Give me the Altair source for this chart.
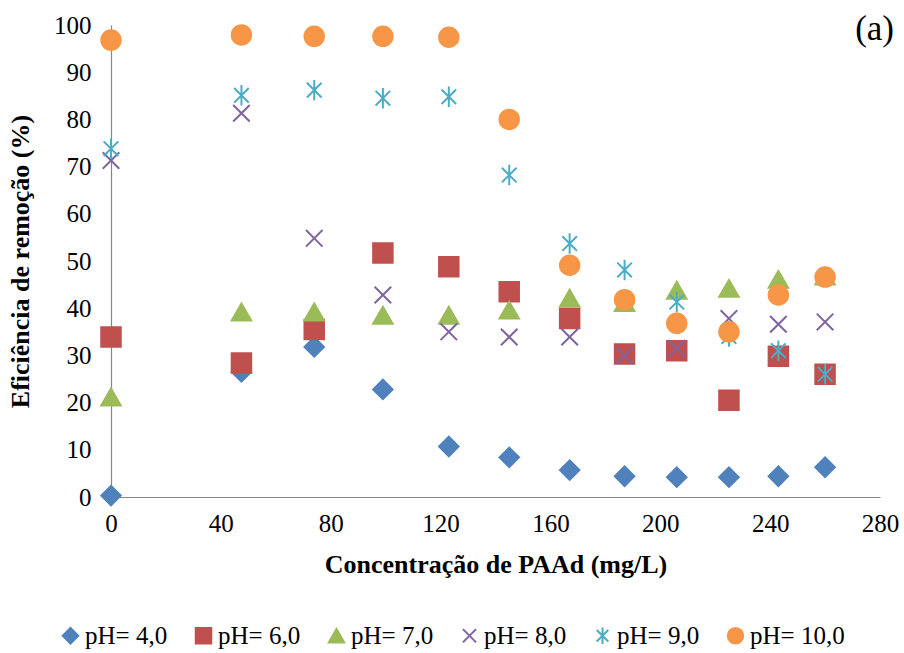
import altair as alt
import pandas as pd

# ---- data ----
conc = [0, 47.5, 74, 99, 123, 145, 167, 187, 206, 225, 243, 260]
ph4 = [0.3, 26.5, 31.8, 22.8, 10.7, 8.4, 5.7, 4.4, 4.2, 4.2, 4.4, 6.3]
ph6 = [33.9, 28.4, 35.5, 51.7, 48.8, 43.5, 37.8, 30.3, 31.0, 20.5, 29.8, 26.0]
ph7 = [21.2, 39.2, 39.2, 38.5, 38.5, 39.6, 42.1, 41.2, 43.8, 44.2, 46.1, 46.8]
ph8 = [71.3, 81.3, 54.8, 42.8, 35.0, 33.9, 33.9, 30.0, 31.5, 37.8, 36.6, 37.1]
ph9 = [73.8, 85.1, 86.2, 84.5, 84.8, 68.2, 53.7, 48.1, 41.3, 34.0, 31.0, 26.0]
ph10 = [96.8, 97.9, 97.6, 97.6, 97.4, 80.0, 49.1, 41.8, 36.8, 35.0, 42.8, 46.6]

series_names = ["pH= 4,0", "pH= 6,0", "pH= 7,0", "pH= 8,0", "pH= 9,0", "pH= 10,0"]
series_values = [ph4, ph6, ph7, ph8, ph9, ph10]
colors = ["#4F81BD", "#C0504D", "#9BBB59", "#8064A2", "#4BACC6", "#F79646"]
shapes = [
    "diamond",
    "square",
    "triangle-up",
    "M-0.85,-0.85L0.85,0.85M-0.85,0.85L0.85,-0.85",
    "M-0.75,-0.75L0.75,0.75M-0.75,0.75L0.75,-0.75M0,-1.05L0,1.05",
    "circle",
]
x_ticks = [0, 40, 80, 120, 160, 200, 240, 280]
y_ticks = [0, 10, 20, 30, 40, 50, 60, 70, 80, 90, 100]

FONT = "Times New Roman, Liberation Serif, DejaVu Serif, serif"

rows = []
for name, vals in zip(series_names, series_values):
    for xv, yv in zip(conc, vals):
        rows.append({"serie": name, "conc": xv, "efic": yv, "ord": len(rows)})
df = pd.DataFrame(rows)

leg = alt.Legend(title=None)
points = alt.Chart(df).mark_point(
    size=380, strokeWidth=2, opacity=1, filled=False
).encode(
    x=alt.X("conc:Q", scale=alt.Scale(domain=[0, 280], nice=False),
            axis=alt.Axis(values=x_ticks, title="Concentração de PAAd (mg/L)")),
    y=alt.Y("efic:Q", scale=alt.Scale(domain=[0, 100], nice=False),
            axis=alt.Axis(values=y_ticks, title="Eficiência de remoção (%)")),
    fill=alt.Fill("serie:N", scale=alt.Scale(domain=series_names, range=colors), legend=leg),
    stroke=alt.Stroke("serie:N", scale=alt.Scale(domain=series_names, range=colors), legend=leg),
    shape=alt.Shape("serie:N", scale=alt.Scale(domain=series_names, range=shapes), legend=leg),
    order=alt.Order("ord:Q"),
)

chart = points.properties(
    width=769,
    height=472,
    autosize=alt.AutoSizeParams(type="none"),
    padding={"left": 111, "top": 25, "right": 24, "bottom": 156},
    title=alt.TitleParams(text="(a)", anchor="end", frame="group", orient="top",
                          font=FONT, fontSize=35, fontWeight="normal",
                          color="#000000", offset=0, dx=14, dy=34),
).configure_view(
    stroke=None
).configure_axis(
    grid=False,
    ticks=False,
    domainColor="#868686",
    domainWidth=1.2,
    labelFont=FONT,
    labelFontSize=25,
    labelColor="#000000",
    labelFlush=False,
    titleFont=FONT,
    titleFontSize=26,
    titleFontWeight="bold",
    titleColor="#000000",
).configure_axisX(
    labelPadding=14,
    titlePadding=15,
).configure_axisY(
    labelPadding=20,
    titlePadding=20,
).configure_legend(
    orient="none",
    legendX=-53,
    legendY=598,
    direction="horizontal",
    columns=6,
    labelFont=FONT,
    labelFontSize=25,
    labelColor="#000000",
    symbolSize=240,
    symbolStrokeWidth=2,
    labelOffset=2,
    columnPadding=23,
)

chart.save("out.html", embed_options={"renderer": "svg", "actions": False})
